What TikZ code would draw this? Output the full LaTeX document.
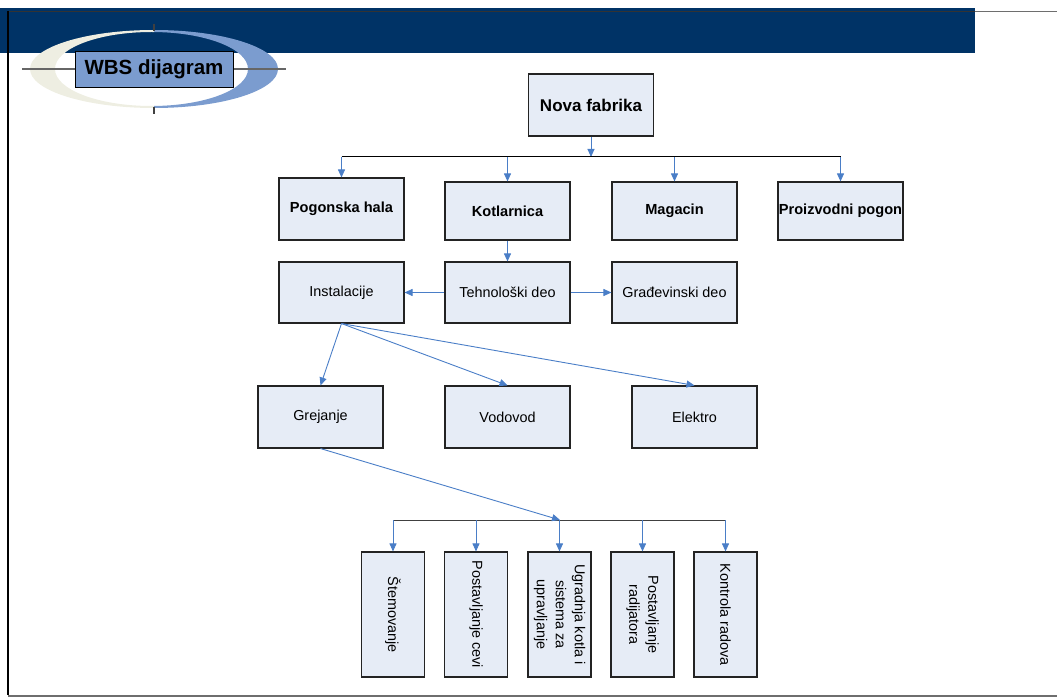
\documentclass[tikz,border=0pt]{standalone}
\usepackage{fontspec}
\setmainfont{Liberation Sans}
\usetikzlibrary{arrows.meta}
\definecolor{band}{RGB}{0,51,102}
\definecolor{cream}{RGB}{238,238,226}
\definecolor{lblue}{RGB}{123,156,207}
\definecolor{boxfill}{RGB}{230,236,246}
\definecolor{boxline}{RGB}{35,35,35}
\definecolor{conn}{RGB}{74,126,199}
\definecolor{bordergray}{RGB}{110,110,110}
\tikzset{
  box/.style={draw=boxline, fill=boxfill, line width=1.1pt, minimum width=125pt,
    minimum height=62pt, inner sep=0pt, font=\fontsize{14.4}{17}\selectfont},
  bbox/.style={box, font=\bfseries\fontsize{14.6}{17}\selectfont},
  vbox/.style={box, rotate=-90, minimum width=125pt, minimum height=63pt, align=center,
    font=\fontsize{14.4}{19}\selectfont},
  arr/.style={draw=conn, line width=0.9pt, -{Triangle[length=8pt,width=7pt]}},
  busline/.style={line width=1pt},
}
\begin{document}
\begin{tikzpicture}[x=1pt,y=-1pt]
\useasboundingbox (0,0) rectangle (1057,700);
% header band
\fill[band] (0,8) rectangle (975,53);
\draw[line width=1.2pt, bordergray] (8,11.5) -- (1057,11.5);
\draw[line width=1.2pt, black!80] (8,11.5) -- (975,11.5);
\draw[line width=1.5pt, black] (8,11) -- (8,695);
\draw[line width=2pt, bordergray] (8,695.5) -- (1057,695.5);
% crescent logo
\begin{scope}
  \clip (0,0) rectangle (154,120);
  \fill[cream, even odd rule] (154,69) ellipse [x radius=124, y radius=39]
    (151.5,69) ellipse [x radius=96.5, y radius=37];
\end{scope}
\begin{scope}
  \clip (154,0) rectangle (300,120);
  \fill[lblue, even odd rule] (154,69) ellipse [x radius=124, y radius=39]
    (151.5,69) ellipse [x radius=96.5, y radius=37];
\end{scope}
\draw[line width=1.2pt, black!60] (22,69) -- (286,69);
\draw[line width=1.2pt, black!75] (154,24) -- (154,31);
\draw[line width=1.2pt, black!75] (154,107) -- (154,114);
\node[draw=black, line width=0.9pt, fill=lblue, minimum width=158pt, minimum height=36pt,
  inner sep=0pt, font=\bfseries\fontsize{20.5}{24}\selectfont] (title) at (154,69) {WBS dijagram};
% top node
\node[bbox, minimum height=62pt, font=\bfseries\fontsize{17}{20}\selectfont] (nova) at (591,105) {Nova fabrika};
% row 2
\node[bbox] (pog) at (341.5,209) {Pogonska hala};
\node[bbox, minimum height=58pt] (kot) at (507.5,211) {Kotlarnica};
\node[bbox, minimum height=58pt] (mag) at (674.5,211) {Magacin};
\node[bbox, minimum height=58pt] (pro) at (840.5,211) {Proizvodni pogon};
% row 3
\node[box, minimum height=61pt] (ins) at (341.5,292.5) {Instalacije};
\node[box, minimum height=61pt] (teh) at (507.5,292.5) {Tehnološki deo};
\node[box, minimum height=61pt] (gra) at (674.5,292.5) {Građevinski deo};
% row 4
\node[box] (grej) at (320.5,417) {Grejanje};
\node[box] (vod) at (507.5,417) {Vodovod};
\node[box] (ele) at (694.5,417) {Elektro};
% bottom row
\node[vbox] (b1) at (393,614.5) {Štemovanje};
\node[vbox] (b2) at (476,614.5) {Postavljanje cevi};
\node[vbox] (b3) at (559.5,614.5) {Ugradnja kotla i\\sistema za\\upravljanje};
\node[vbox] (b4) at (642.5,614.5) {Postavljanje\\radijatora};
\node[vbox] (b5) at (725.5,614.5) {Kontrola radova};
% connectors top
\coordinate (bus1) at (591,157);
\draw[arr] (nova.south) -- (bus1);
\draw[busline] (pog.north |- bus1) -- (pro.north |- bus1);
\foreach \n in {pog,kot,mag,pro} {
  \draw[arr] (\n.north |- bus1) -- (\n.north);
}
\draw[arr] (kot.south) -- (teh.north);
\draw[arr] (teh.west) -- (ins.east);
\draw[arr] (teh.east) -- (gra.west);
\draw[arr] (ins.south) -- (grej.north);
\draw[arr] (ins.south) -- (vod.north);
\draw[arr] (ins.south) -- (ele.north);
% bottom bus
\coordinate (bus2) at (560,520);
\draw[busline, black!75] (b1.west |- bus2) -- (b5.west |- bus2);
\draw[arr] (grej.south) -- (bus2);
\foreach \n in {b1,b2,b3,b4,b5} {
  \draw[arr] (\n.west |- bus2) -- (\n.west);
}
\end{tikzpicture}
\end{document}
